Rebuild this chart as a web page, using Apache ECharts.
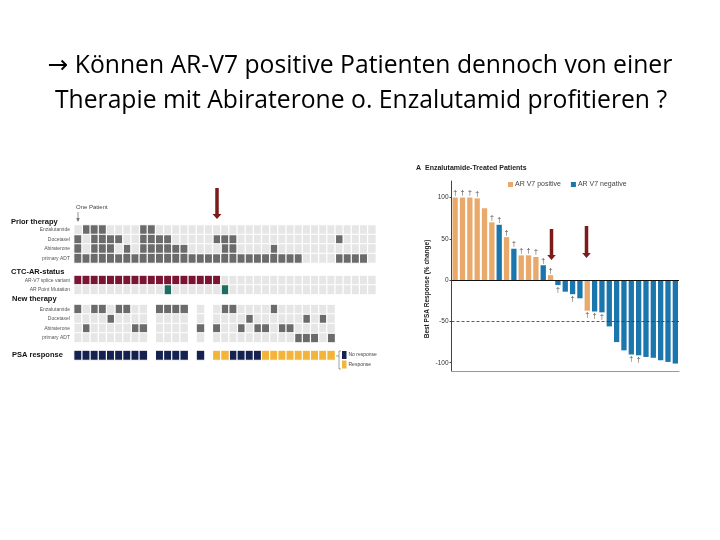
<!DOCTYPE html>
<html><head><meta charset="utf-8">
<script src="https://cdn.jsdelivr.net/npm/echarts@6/dist/echarts.min.js"></script>
<style>html,body{margin:0;padding:0;background:#fff}#c{width:720px;height:540px}</style>
</head><body><div id="c"></div>
<script>
// ---------- DATA ----------
const titleLine1 = '\u2192 Können AR-V7 positive Patienten dennoch von einer';
const titleLine2 = 'Therapie mit Abiraterone o. Enzalutamid profitieren ?';

// Heat-map grid (one column per patient)
const patientCount = 37;
const priorRows = ['Enzalutamide', 'Docetaxel', 'Abiraterone', 'primary ADT'];
const ctcRows = ['AR-V7 splice variant', 'AR Point Mutation'];
const newRows = ['Enzalutamide', 'Docetaxel', 'Abiraterone', 'primary ADT'];

// column indices (0-based) where the item is present
const priorEnzalutamide = [1, 2, 3, 8, 9];
const priorDocetaxel = [0, 2, 3, 4, 5, 8, 9, 10, 11, 17, 18, 19, 32];
const priorAbiraterone = [0, 2, 3, 4, 6, 8, 9, 10, 11, 12, 13, 18, 19, 24];
const priorADT = [0,1,2,3,4,5,6,7,8,9,10,11,12,13,14,15,16,17,18,19,20,21,22,23,24,25,26,27,32,33,34,35];
const arV7Splice = [0,1,2,3,4,5,6,7,8,9,10,11,12,13,14,15,16,17];
const arPointMutation = [11, 18];
const newEnzalutamide = [0, 2, 3, 5, 6, 10, 11, 12, 13, 18, 19, 24];
const newDocetaxel = [4, 21, 28, 30];
const newAbiraterone = [1, 7, 8, 15, 17, 20, 22, 23, 25, 26];
const newADT = [27, 28, 29, 31];
const newTherapyMissing = [9, 14, 16, 32, 33, 34, 35, 36];
// PSA response per patient: 0 = no response, 1 = response, null = not shown
const psaResponse = [0,0,0,0,0,0,0,0,0,null,0,0,0,0,null,0,null,1,1,0,0,0,0,1,1,1,1,1,1,1,1,1,null,null,null,null,null];

// Waterfall (Enzalutamide-treated patients)
const psaChange = [100,100,100,99,87,70,67,52,38,30,30,28,18,6,-6,-14,-17,-22,-37,-38,-39,-56,-75,-85,-90,-91,-93,-94,-97,-99,-101];
const arStatus  = ['p','p','p','p','p','p','n','p','n','p','p','p','n','p','n','n','n','n','p','n','n','n','n','n','n','n','n','n','n','n','n'];
const daggers   = [1,1,1,1,0,1,1,1,1,1,1,1,1,1,1,0,1,0,1,1,1,0,0,0,1,1,0,0,0,0,0];
const yTicks = [-100, -50, 0, 50, 100];

// ---------- COLOURS ----------
const C = {
  dark: '#6b6b6b', light: '#e6e6e6', maroon: '#7a1533', teal: '#1e6d62',
  navy: '#15224f', yellow: '#f2b43a', orange: '#e8a96a', blue: '#1b76ad', red: '#7d1a1a'
};

// ---------- BUILD ----------
const patients = Array.from({length: patientCount}, (_, i) => String(i + 1));
function cells(rowIdx, present, missing) {
  const on = [], off = [];
  for (let c = 0; c < patientCount; c++) {
    if (missing && missing.includes(c)) continue;
    (present.includes(c) ? on : off).push([c, rowIdx, 1]);
  }
  return {on, off};
}
function rowsData(rowArrays, missing) {
  const on = [], off = [];
  rowArrays.forEach((arr, r) => { const d = cells(r, arr, missing); on.push(...d.on); off.push(...d.off); });
  return {on, off};
}
const prior = rowsData([priorEnzalutamide, priorDocetaxel, priorAbiraterone, priorADT]);
const ctcA = cells(0, arV7Splice);
const ctcB = cells(1, arPointMutation);
const newT = rowsData([newEnzalutamide, newDocetaxel, newAbiraterone, newADT], newTherapyMissing);
const psaNo = [], psaYes = [];
psaResponse.forEach((v, c) => { if (v === 0) psaNo.push([c, 0, 1]); else if (v === 1) psaYes.push([c, 0, 1]); });

const GL = 74, GW = 302;
const grids = [
  {left: GL, top: 225, width: GW, height: 38},
  {left: GL, top: 275.5, width: GW, height: 19},
  {left: GL, top: 304.5, width: GW, height: 38},
  {left: GL, top: 350.5, width: GW, height: 9.5},
  {left: 451.5, top: 181, width: 227.5, height: 190}
];
function hx(i) { return {type: 'category', gridIndex: i, data: patients, show: false}; }
function hy(i, rows) {
  return {type: 'category', gridIndex: i, data: rows, inverse: true,
    axisLine: {show: false}, axisTick: {show: false},
    axisLabel: {show: rows.length > 0 && rows[0] !== '', fontSize: 5, color: '#555', margin: 4, fontFamily: 'Liberation Sans'}};
}
function hm(name, i, data, color) {
  return {type: 'heatmap', name, xAxisIndex: i, yAxisIndex: i, data,
    itemStyle: {color, borderColor: '#fff', borderWidth: 1.2}, silent: true, emphasis: {disabled: true}};
}

const catIdx = psaChange.map((_, i) => String(i + 1));
function barItem(v, i) {
  if (!daggers[i]) return v;
  return {value: v, label: {show: true, position: v >= 0 ? 'top' : 'bottom'}};
}
const posData = psaChange.map((v, i) => arStatus[i] === 'p' ? barItem(v, i) : '-');
const negData = psaChange.map((v, i) => arStatus[i] === 'n' ? barItem(v, i) : '-');
const barLabel = {show: false, formatter: '\u2020', fontSize: 7, color: '#4d3f38', distance: 1};

function arrow(x, y0, y1, shaftW, headW, headH, color) {
  return {type: 'polygon', shape: {points: [
    [x - shaftW / 2, y0], [x + shaftW / 2, y0], [x + shaftW / 2, y1 - headH], [x + headW / 2, y1 - headH],
    [x, y1], [x - headW / 2, y1 - headH], [x - shaftW / 2, y1 - headH]]}, style: {fill: color}, silent: true};
}
function txt(x, y, text, font, color, align) {
  return {type: 'text', x, y, silent: true, style: {text, font, fill: color || '#111', align: align || 'left', verticalAlign: 'middle'}};
}

const option = {
  backgroundColor: '#fff',
  animation: false,
  grid: grids,
  xAxis: [hx(0), hx(1), hx(2), hx(3),
    {type: 'category', gridIndex: 4, data: catIdx, axisLine: {onZero: false, lineStyle: {color: '#999'}},
      axisTick: {show: false}, axisLabel: {show: false}}],
  yAxis: [hy(0, priorRows), hy(1, ctcRows), hy(2, newRows), hy(3, ['']),
    {type: 'value', gridIndex: 4, min: -110, max: 120,
      axisLine: {show: true, lineStyle: {color: '#444'}},
      axisTick: {show: true, length: 2, customValues: yTicks, lineStyle: {color: '#444'}},
      axisLabel: {customValues: yTicks, fontSize: 6.5, color: '#333', margin: 3, fontFamily: 'Liberation Sans'},
      splitLine: {show: false},
      name: 'Best PSA Response (% change)', nameLocation: 'middle', nameGap: 21, nameRotate: 90,
      nameTextStyle: {fontSize: 6.5, fontWeight: 'bold', color: '#222', fontFamily: 'Liberation Sans', padding: [0, 0, 0, -26]}}],
  legend: [
    {data: ['AR V7 positive', 'AR V7 negative'], left: 508, top: 181, padding: 0, itemWidth: 5, itemHeight: 5, itemGap: 10,
      icon: 'rect', textStyle: {fontSize: 7, color: '#444', padding: [0, 0, 0, -3], fontFamily: 'Liberation Sans'}, selectedMode: false},
    {data: ['No response', 'Response'], left: 342, top: 351, padding: 0, orient: 'vertical', itemWidth: 4.5, itemHeight: 8, itemGap: 1.5,
      icon: 'rect', itemStyle: {borderWidth: 0}, textStyle: {fontSize: 5, color: '#444', padding: [0, 0, 0, -3], fontFamily: 'Liberation Sans'}, selectedMode: false}
  ],
  series: [
    hm('prior-dark', 0, prior.on, C.dark), hm('prior-light', 0, prior.off, C.light),
    hm('ctc-v7', 1, ctcA.on, C.maroon), hm('ctc-off1', 1, ctcA.off, C.light),
    hm('ctc-mut', 1, ctcB.on, C.teal), hm('ctc-off2', 1, ctcB.off, C.light),
    hm('new-dark', 2, newT.on, C.dark), hm('new-light', 2, newT.off, C.light),
    hm('No response', 3, psaNo, C.navy), hm('Response', 3, psaYes, C.yellow),
    {type: 'bar', name: 'AR V7 positive', xAxisIndex: 4, yAxisIndex: 4, data: posData, barWidth: 5.3, barGap: '-100%',
      itemStyle: {color: C.orange}, label: barLabel, silent: true,
      markLine: {silent: true, symbol: 'none', label: {show: false},
        data: [{yAxis: 0, lineStyle: {color: '#111', type: 'solid', width: 1}},
               {yAxis: -50, lineStyle: {color: '#333', type: [3, 2], width: 0.8}}]}},
    {type: 'bar', name: 'AR V7 negative', xAxisIndex: 4, yAxisIndex: 4, data: negData, barWidth: 5.3, barGap: '-100%',
      itemStyle: {color: C.blue}, label: barLabel, silent: true}
  ],
  graphic: [
    txt(360, 66, titleLine1, '24.7px "Open Sans", "DejaVu Sans"', '#000', 'center'),
    txt(361, 101, titleLine2, '24.7px "Open Sans", "DejaVu Sans"', '#000', 'center'),
    txt(11, 221.5, 'Prior therapy', 'bold 7.5px "Liberation Sans"'),
    txt(11, 271.5, 'CTC-AR-status', 'bold 7.5px "Liberation Sans"'),
    txt(12, 299, 'New therapy', 'bold 7.5px "Liberation Sans"'),
    txt(12, 355, 'PSA response', 'bold 7.5px "Liberation Sans"'),
    txt(76, 207, 'One Patient', '6px "Liberation Sans"', '#444'),
    {type: 'line', shape: {x1: 78, y1: 212, x2: 78, y2: 221}, style: {stroke: '#777', lineWidth: 0.8}, silent: true},
    {type: 'polygon', shape: {points: [[76.2, 218], [79.8, 218], [78, 222]]}, style: {fill: '#777'}, silent: true},
    txt(416, 168, 'A', 'bold 7px "Liberation Sans"', '#222'),
    txt(425, 168, 'Enzalutamide-Treated Patients', 'bold 7px "Liberation Sans"', '#222'),
    arrow(217, 188, 219, 3.5, 9, 5, C.red),
    arrow(551.5, 229, 260, 3.5, 8.5, 5, C.red),
    arrow(586.5, 226, 258, 3.5, 8.5, 5, C.red),
    {type: 'polyline', shape: {points: [[341, 351], [339, 351], [339, 369], [341, 369]]}, style: {stroke: '#777', lineWidth: 0.7, fill: null}, silent: true},
    {type: 'line', shape: {x1: 335.5, y1: 356, x2: 339, y2: 356}, style: {stroke: '#777', lineWidth: 0.7}, silent: true}
  ]
};
const chart = echarts.init(document.getElementById('c'), null, {renderer: 'canvas'});
chart.setOption(option);
</script></body></html>
